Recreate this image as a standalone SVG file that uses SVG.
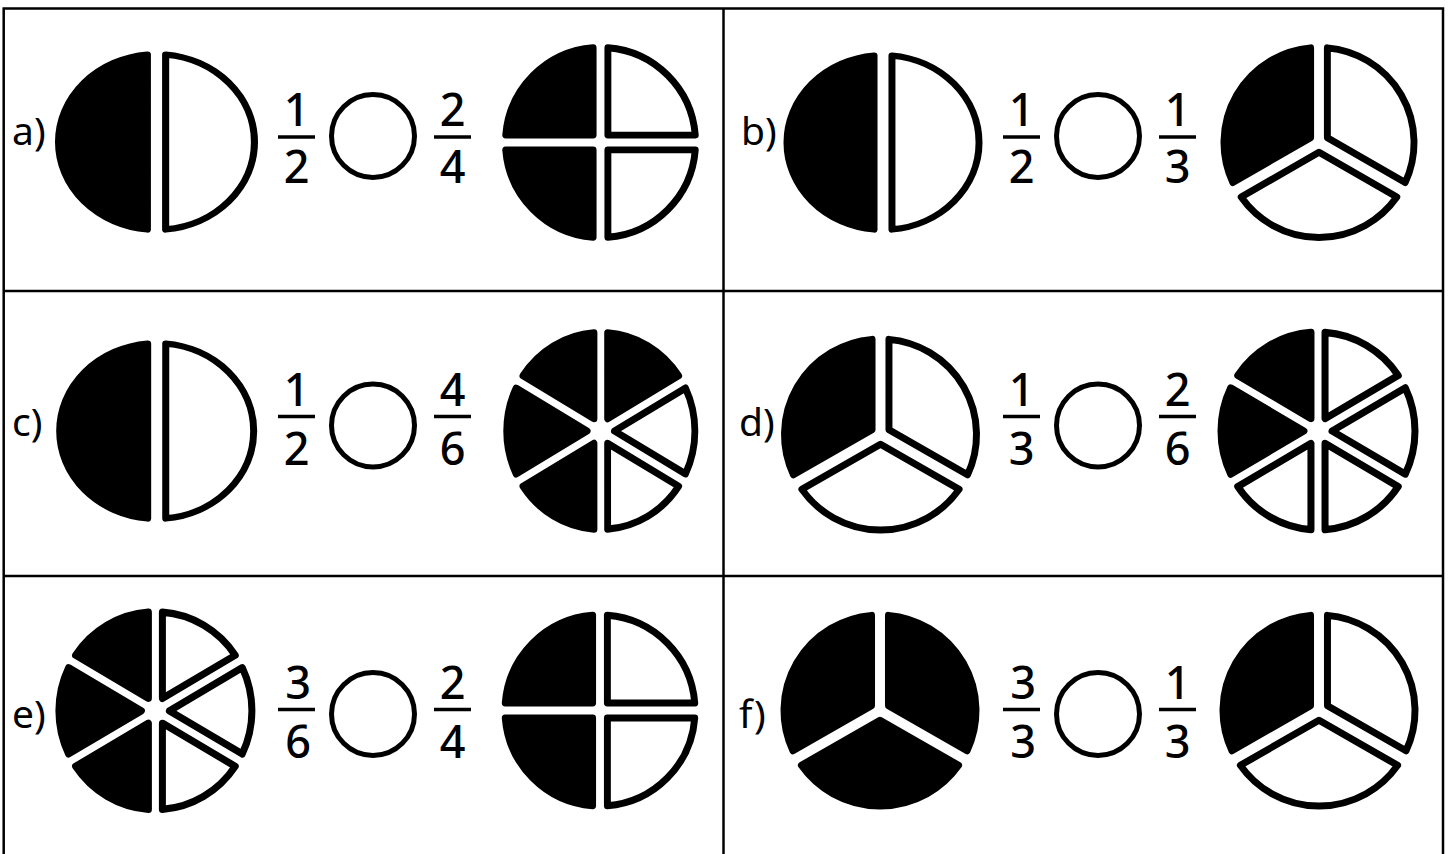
<svg xmlns="http://www.w3.org/2000/svg" xmlns:xlink="http://www.w3.org/1999/xlink" width="1450" height="854" viewBox="0 0 1450 854">
<style>
.grid{stroke:#000;stroke-width:2.5;fill:none}
.pc{stroke:#000;stroke-width:7;stroke-linejoin:round}
.b{fill:#000}
.w{fill:#fff}
.lbl{font-family:"Noto Sans","DejaVu Sans",sans-serif;font-size:39px;fill:#000}
.num{font-family:"Noto Sans","DejaVu Sans",sans-serif;font-size:45px;font-weight:500;fill:#000;text-anchor:middle}
.bar{stroke:#000;stroke-width:3.5}
.cmp{fill:none;stroke:#000;stroke-width:5}
</style>
<defs>
<path id="hR" d="M9,-96.08 A96.5,96.5 0 0 1 9,96.08 Z"/>
<path id="hL" d="M-9,-96.08 A96.5,96.5 0 0 0 -9,96.08 Z"/>
<path id="q" d="M7.5,-7.5 L7.5,-96.21 A96.5,96.5 0 0 1 96.21,-7.5 Z"/>
<path id="t" d="M8.5,-4.907 L8.5,-96.125 A96.5,96.5 0 0 1 87.495,40.70 Z"/>
<path id="s" d="M7,-12.124 L7,-96.246 A96.5,96.5 0 0 1 79.85,-54.185 Z"/>
</defs>
<g id="grid">
<rect class="grid" x="3.7" y="8.5" width="1439.3" height="860"/>
<line class="grid" x1="723.5" y1="8.5" x2="723.5" y2="854"/>
<line class="grid" x1="3.7" y1="291" x2="1443" y2="291"/>
<line class="grid" x1="3.7" y1="576" x2="1443" y2="576"/>
</g>
<g id="connectors"/>
<g id="cell-a">
<text class="lbl" x="12" y="145">a)</text>
<g transform="translate(156.5,142) scale(1.015,0.91)">
<use href="#hL" class="pc b"/><use href="#hR" class="pc w"/>
</g>
<text class="num" x="296.5" y="126">1</text><line class="bar" x1="278" y1="137" x2="315" y2="137"/><text class="num" x="296.5" y="183">2</text>
<circle class="cmp" cx="373" cy="136" r="41.5"/>
<text class="num" x="452.5" y="126">2</text><line class="bar" x1="434" y1="137" x2="471" y2="137"/><text class="num" x="452.5" y="183">4</text>
<g transform="translate(600.5,142.5) scale(0.985)">
<use href="#q" class="pc w"/><use href="#q" class="pc w" transform="rotate(90)"/><use href="#q" class="pc b" transform="rotate(180)"/><use href="#q" class="pc b" transform="rotate(270)"/>
</g>
</g>
<g id="cell-b">
<text class="lbl" x="741" y="145">b)</text>
<g transform="translate(883,142.5) scale(0.995,0.905)">
<use href="#hL" class="pc b"/><use href="#hR" class="pc w"/>
</g>
<text class="num" x="1021.5" y="126">1</text><line class="bar" x1="1003" y1="137" x2="1040" y2="137"/><text class="num" x="1021.5" y="183">2</text>
<circle class="cmp" cx="1098" cy="136" r="41.5"/>
<text class="num" x="1177.5" y="126">1</text><line class="bar" x1="1159" y1="137" x2="1196" y2="137"/><text class="num" x="1177.5" y="183">3</text>
<g transform="translate(1319,142.5) scale(0.985)">
<use href="#t" class="pc w"/><use href="#t" class="pc w" transform="rotate(120)"/><use href="#t" class="pc b" transform="rotate(240)"/>
</g>
</g>
<g id="cell-c">
<text class="lbl" x="12" y="436">c)</text>
<g transform="translate(156.7,431) scale(1.005,0.91)">
<use href="#hL" class="pc b"/><use href="#hR" class="pc w"/>
</g>
<text class="num" x="296.5" y="406">1</text><line class="bar" x1="278" y1="416.5" x2="315" y2="416.5"/><text class="num" x="296.5" y="465">2</text>
<circle class="cmp" cx="373" cy="425.5" r="41.5"/>
<text class="num" x="452.5" y="406">4</text><line class="bar" x1="434" y1="416.5" x2="471" y2="416.5"/><text class="num" x="452.5" y="465">6</text>
<g transform="translate(600.8,431) scale(0.975,1.02)">
<use href="#s" class="pc b"/><use href="#s" class="pc w" transform="rotate(60)"/><use href="#s" class="pc w" transform="rotate(120)"/><use href="#s" class="pc b" transform="rotate(180)"/><use href="#s" class="pc b" transform="rotate(240)"/><use href="#s" class="pc b" transform="rotate(300)"/>
</g>
</g>
<g id="cell-d">
<text class="lbl" x="739" y="436">d)</text>
<g transform="translate(880.5,434.5) scale(0.995,0.99)">
<use href="#t" class="pc w"/><use href="#t" class="pc w" transform="rotate(120)"/><use href="#t" class="pc b" transform="rotate(240)"/>
</g>
<text class="num" x="1021.5" y="406">1</text><line class="bar" x1="1003" y1="416.5" x2="1040" y2="416.5"/><text class="num" x="1021.5" y="465">3</text>
<circle class="cmp" cx="1098" cy="425.5" r="41.5"/>
<text class="num" x="1177.5" y="406">2</text><line class="bar" x1="1159" y1="416.5" x2="1196" y2="416.5"/><text class="num" x="1177.5" y="465">6</text>
<g transform="translate(1318,431) scale(1.005,1.025)">
<use href="#s" class="pc w"/><use href="#s" class="pc w" transform="rotate(60)"/><use href="#s" class="pc w" transform="rotate(120)"/><use href="#s" class="pc w" transform="rotate(180)"/><use href="#s" class="pc b" transform="rotate(240)"/><use href="#s" class="pc b" transform="rotate(300)"/>
</g>
</g>
<g id="cell-e">
<text class="lbl" x="12" y="728">e)</text>
<g transform="translate(155.4,710.8) scale(1.0,1.025)">
<use href="#s" class="pc w"/><use href="#s" class="pc w" transform="rotate(60)"/><use href="#s" class="pc w" transform="rotate(120)"/><use href="#s" class="pc b" transform="rotate(180)"/><use href="#s" class="pc b" transform="rotate(240)"/><use href="#s" class="pc b" transform="rotate(300)"/>
</g>
<text class="num" x="298" y="699">3</text><line class="bar" x1="278" y1="709.5" x2="315" y2="709.5"/><text class="num" x="298" y="758">6</text>
<circle class="cmp" cx="373" cy="714" r="41.5"/>
<text class="num" x="452.5" y="699">2</text><line class="bar" x1="434" y1="709.5" x2="471" y2="709.5"/><text class="num" x="452.5" y="758">4</text>
<g transform="translate(600,710.5) scale(0.985,0.99)">
<use href="#q" class="pc w"/><use href="#q" class="pc w" transform="rotate(90)"/><use href="#q" class="pc b" transform="rotate(180)"/><use href="#q" class="pc b" transform="rotate(270)"/>
</g>
</g>
<g id="cell-f">
<text class="lbl" x="739" y="728">f)</text>
<g transform="translate(880,710.5) scale(0.995,0.99)">
<use href="#t" class="pc b"/><use href="#t" class="pc b" transform="rotate(120)"/><use href="#t" class="pc b" transform="rotate(240)"/>
</g>
<text class="num" x="1023" y="699">3</text><line class="bar" x1="1003" y1="709.5" x2="1040" y2="709.5"/><text class="num" x="1023" y="758">3</text>
<circle class="cmp" cx="1098" cy="714" r="41.5"/>
<text class="num" x="1177.5" y="699">1</text><line class="bar" x1="1159" y1="709.5" x2="1196" y2="709.5"/><text class="num" x="1177.5" y="758">3</text>
<g transform="translate(1319,710.5) scale(0.995,0.99)">
<use href="#t" class="pc w"/><use href="#t" class="pc w" transform="rotate(120)"/><use href="#t" class="pc b" transform="rotate(240)"/>
</g>
</g>
</svg>
